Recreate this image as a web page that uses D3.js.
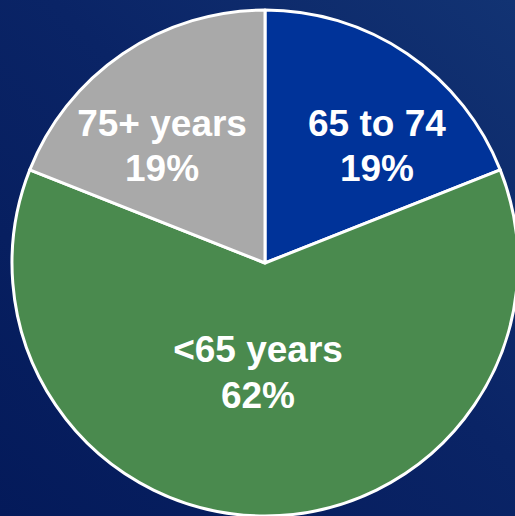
<!DOCTYPE html>
<html>
<head>
<meta charset="utf-8">
<script src="https://cdn.jsdelivr.net/npm/d3@7"></script>
<style>
  html, body { margin: 0; padding: 0; overflow: hidden; }
  svg { display: block; }
</style>
</head>
<body>
<figure id="pie" style="margin:0"></figure>
<script>
// age groups and their shares (percent)
const groups = ["65 to 74", "<65 years", "75+ years"];
const shares = [19, 62, 19];
const colors = ["#003399", "#4a8a4e", "#a9a9a9"];

// nudges so labels sit where the slide placed them
const labelOffsets = [[22, 28], [-7, -38], [-13, 28]];

const width = 515, height = 516;
const cx = 265, cy = 263, radius = 253;

const data = groups.map((g, i) => ({ name: g, value: shares[i], color: colors[i], off: labelOffsets[i] }));

const svg = d3.select("figure#pie")
  .append("svg")
  .attr("width", width)
  .attr("height", height);

const defs = svg.append("defs");
const grad = defs.append("linearGradient")
  .attr("id", "bg")
  .attr("x1", "0%").attr("y1", "100%")
  .attr("x2", "100%").attr("y2", "0%");
grad.append("stop").attr("offset", "0%").attr("stop-color", "#041a5a");
grad.append("stop").attr("offset", "55%").attr("stop-color", "#0a2466");
grad.append("stop").attr("offset", "100%").attr("stop-color", "#123373");

svg.append("rect")
  .attr("width", width)
  .attr("height", height)
  .attr("fill", "url(#bg)");

const pie = d3.pie()
  .sort(null)
  .value(d => d.value);

const arcs = pie(data);

const arc = d3.arc()
  .innerRadius(0)
  .outerRadius(radius);

const arcLabel = d3.arc()
  .innerRadius(160)
  .outerRadius(160);

const g = svg.append("g")
  .attr("transform", `translate(${cx},${cy})`);

g.append("g")
    .attr("stroke", "white")
    .attr("stroke-width", 3)
    .attr("stroke-linejoin", "round")
  .selectAll("path")
  .data(arcs)
  .join("path")
    .attr("fill", d => d.data.color)
    .attr("d", arc);

// two-line labels: name, then percentage
g.append("g")
    .attr("font-family", "'Liberation Sans', Arial, sans-serif")
    .attr("font-weight", "bold")
    .attr("font-size", 37)
    .attr("fill", "white")
    .attr("text-anchor", "middle")
  .selectAll("text")
  .data(arcs)
  .join("text")
    .attr("transform", d => {
      const [x, y] = arcLabel.centroid(d);
      return `translate(${x + d.data.off[0]},${y + d.data.off[1]})`;
    })
    .call(text => text.append("tspan")
        .attr("x", 0)
        .attr("y", "-0.61em")
        .text(d => d.data.name))
    .call(text => text.append("tspan")
        .attr("x", 0)
        .attr("y", "0.61em")
        .text(d => `${d.data.value}%`));
</script>
</body>
</html>
